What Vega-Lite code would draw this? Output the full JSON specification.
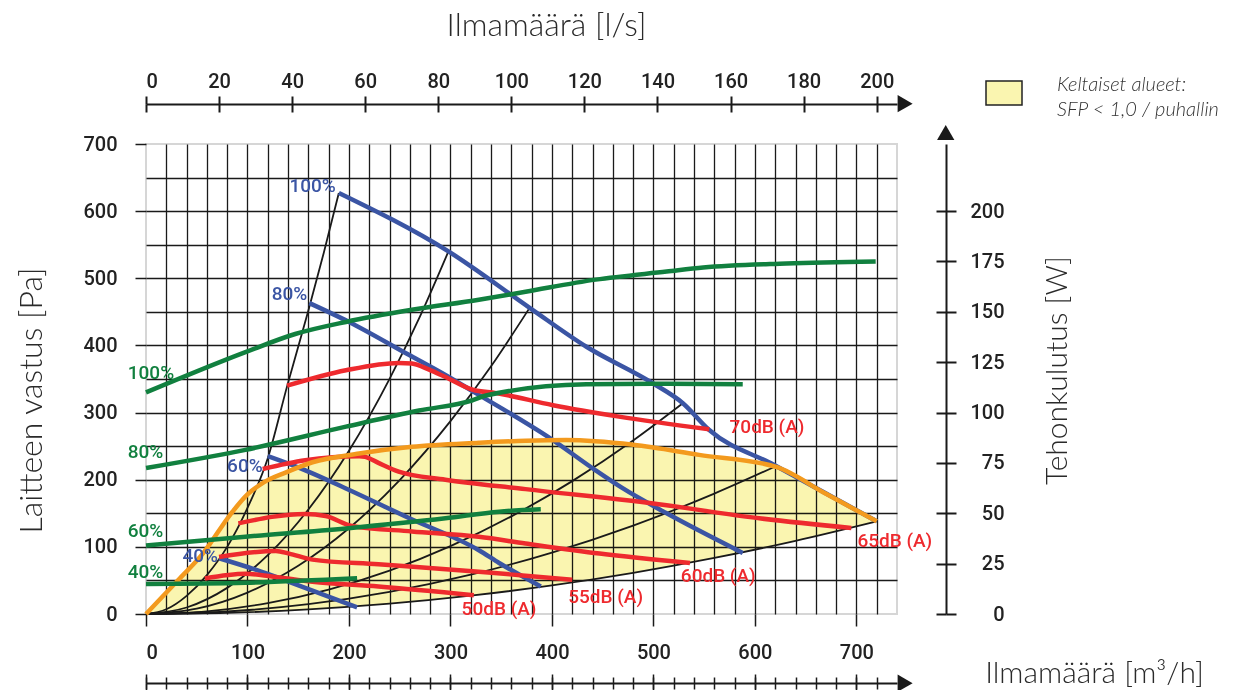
{
  "$schema": "https://vega.github.io/schema/vega-lite/v6.json",
  "width": 751,
  "height": 470,
  "autosize": {"type": "none"},
  "padding": {"left": 146, "top": 144, "right": 341, "bottom": 76},
  "background": "#ffffff",
  "config": {
    "view": {"stroke": "#d6d6d6", "strokeWidth": 2},
    "axis": {"labelFont": "Roboto", "labelFontSize": 20, "labelFontWeight": 500, "labelColor": "#222222", "titleFont": "Lato", "titleFontSize": 32, "titleFontWeight": 300, "titleColor": "#2a2a2a", "tickColor": "#1a1a1a", "domainColor": "#1a1a1a", "grid": false},
    "text": {"font": "Roboto", "fontSize": 19, "fontWeight": 500}
  },
  "datasets": {
    "sfp": [
      {"x": 0, "top": 0, "bottom": 0},
      {"x": 32, "top": 51, "bottom": 0.3},
      {"x": 56, "top": 90, "bottom": 0.8},
      {"x": 84, "top": 150, "bottom": 1.9},
      {"x": 100, "top": 178, "bottom": 2.7},
      {"x": 116, "top": 196, "bottom": 3.6},
      {"x": 138, "top": 211, "bottom": 5.1},
      {"x": 164, "top": 226, "bottom": 7.2},
      {"x": 210, "top": 239, "bottom": 11.7},
      {"x": 262, "top": 249, "bottom": 18.3},
      {"x": 328, "top": 255, "bottom": 28.6},
      {"x": 374, "top": 258, "bottom": 37.2},
      {"x": 414, "top": 259, "bottom": 45.6},
      {"x": 480, "top": 252, "bottom": 61.3},
      {"x": 545, "top": 237, "bottom": 79.1},
      {"x": 621, "top": 219, "bottom": 102.7},
      {"x": 670, "top": 179, "bottom": 119.5},
      {"x": 720, "top": 138, "bottom": 138}
    ],
    "system": [
      {"s": "A", "x": 0, "y": 0}, {"s": "A", "x": 20, "y": 7}, {"s": "A", "x": 40, "y": 27}, {"s": "A", "x": 60, "y": 58}, {"s": "A", "x": 80, "y": 100}, {"s": "A", "x": 100, "y": 158}, {"s": "A", "x": 120, "y": 232}, {"s": "A", "x": 139, "y": 339}, {"s": "A", "x": 160, "y": 452}, {"s": "A", "x": 175, "y": 537}, {"s": "A", "x": 190, "y": 627},
      {"s": "B", "x": 0, "y": 0}, {"s": "B", "x": 40, "y": 9.7}, {"s": "B", "x": 80, "y": 38.9}, {"s": "B", "x": 120, "y": 87.6}, {"s": "B", "x": 160, "y": 155.7}, {"s": "B", "x": 200, "y": 243.2}, {"s": "B", "x": 240, "y": 350.3}, {"s": "B", "x": 270, "y": 443.3}, {"s": "B", "x": 298, "y": 540},
      {"s": "C", "x": 0, "y": 0}, {"s": "C", "x": 50, "y": 8}, {"s": "C", "x": 100, "y": 31.9}, {"s": "C", "x": 150, "y": 71.8}, {"s": "C", "x": 200, "y": 127.7}, {"s": "C", "x": 250, "y": 199.5}, {"s": "C", "x": 300, "y": 287.2}, {"s": "C", "x": 340, "y": 368.9}, {"s": "C", "x": 378, "y": 456},
      {"s": "D", "x": 0, "y": 0}, {"s": "D", "x": 60, "y": 4}, {"s": "D", "x": 120, "y": 16.2}, {"s": "D", "x": 180, "y": 36.4}, {"s": "D", "x": 240, "y": 64.6}, {"s": "D", "x": 300, "y": 101}, {"s": "D", "x": 360, "y": 145.4}, {"s": "D", "x": 420, "y": 197.9}, {"s": "D", "x": 480, "y": 258.5}, {"s": "D", "x": 529, "y": 314},
      {"s": "E", "x": 0, "y": 0}, {"s": "E", "x": 80, "y": 3.7}, {"s": "E", "x": 160, "y": 14.6}, {"s": "E", "x": 240, "y": 32.9}, {"s": "E", "x": 320, "y": 58.5}, {"s": "E", "x": 400, "y": 91.5}, {"s": "E", "x": 480, "y": 131.7}, {"s": "E", "x": 560, "y": 179.3}, {"s": "E", "x": 619, "y": 219},
      {"s": "F", "x": 0, "y": 0}, {"s": "F", "x": 80, "y": 1.7}, {"s": "F", "x": 160, "y": 6.8}, {"s": "F", "x": 240, "y": 15.3}, {"s": "F", "x": 320, "y": 27.3}, {"s": "F", "x": 400, "y": 42.6}, {"s": "F", "x": 480, "y": 61.3}, {"s": "F", "x": 560, "y": 83.5}, {"s": "F", "x": 640, "y": 109}, {"s": "F", "x": 720, "y": 138}
    ],
    "fan": [
      {"s": "100", "x": 190, "y": 627}, {"s": "100", "x": 298, "y": 540}, {"s": "100", "x": 378, "y": 456}, {"s": "100", "x": 434, "y": 398}, {"s": "100", "x": 499, "y": 344}, {"s": "100", "x": 529, "y": 314}, {"s": "100", "x": 555, "y": 274}, {"s": "100", "x": 619, "y": 222}, {"s": "100", "x": 720, "y": 138},
      {"s": "80", "x": 161, "y": 463}, {"s": "80", "x": 200, "y": 435}, {"s": "80", "x": 259, "y": 386}, {"s": "80", "x": 295, "y": 356}, {"s": "80", "x": 325, "y": 329}, {"s": "80", "x": 398, "y": 262}, {"s": "80", "x": 443, "y": 214}, {"s": "80", "x": 470, "y": 187}, {"s": "80", "x": 513, "y": 150}, {"s": "80", "x": 588, "y": 91},
      {"s": "60", "x": 120, "y": 235}, {"s": "60", "x": 157, "y": 214}, {"s": "60", "x": 197, "y": 187}, {"s": "60", "x": 259, "y": 143}, {"s": "60", "x": 328, "y": 95}, {"s": "60", "x": 348, "y": 76}, {"s": "60", "x": 389, "y": 41},
      {"s": "40", "x": 72, "y": 83}, {"s": "40", "x": 108, "y": 66}, {"s": "40", "x": 141, "y": 48}, {"s": "40", "x": 208, "y": 10}
    ],
    "noise": [
      {"s": "70", "x": 139, "y": 340}, {"s": "70", "x": 197, "y": 363}, {"s": "70", "x": 249, "y": 374}, {"s": "70", "x": 262, "y": 373}, {"s": "70", "x": 279, "y": 364}, {"s": "70", "x": 295, "y": 353}, {"s": "70", "x": 322, "y": 334}, {"s": "70", "x": 345, "y": 329}, {"s": "70", "x": 401, "y": 311}, {"s": "70", "x": 466, "y": 294}, {"s": "70", "x": 555, "y": 275},
      {"s": "65", "x": 115, "y": 216}, {"s": "65", "x": 157, "y": 229}, {"s": "65", "x": 210, "y": 235}, {"s": "65", "x": 216, "y": 234}, {"s": "65", "x": 229, "y": 225}, {"s": "65", "x": 249, "y": 212}, {"s": "65", "x": 295, "y": 200}, {"s": "65", "x": 374, "y": 186}, {"s": "65", "x": 513, "y": 162}, {"s": "65", "x": 591, "y": 145}, {"s": "65", "x": 695, "y": 128},
      {"s": "60", "x": 91, "y": 135}, {"s": "60", "x": 157, "y": 149}, {"s": "60", "x": 177, "y": 146}, {"s": "60", "x": 203, "y": 131}, {"s": "60", "x": 262, "y": 123}, {"s": "60", "x": 328, "y": 115}, {"s": "60", "x": 374, "y": 105}, {"s": "60", "x": 447, "y": 90}, {"s": "60", "x": 536, "y": 76},
      {"s": "55", "x": 72, "y": 85}, {"s": "55", "x": 128, "y": 94}, {"s": "55", "x": 141, "y": 90}, {"s": "55", "x": 164, "y": 81}, {"s": "55", "x": 229, "y": 74}, {"s": "55", "x": 328, "y": 63}, {"s": "55", "x": 374, "y": 57}, {"s": "55", "x": 420, "y": 51},
      {"s": "50", "x": 58, "y": 53}, {"s": "50", "x": 98, "y": 60}, {"s": "50", "x": 124, "y": 56}, {"s": "50", "x": 164, "y": 48}, {"s": "50", "x": 229, "y": 41}, {"s": "50", "x": 323, "y": 28}
    ],
    "power": [
      {"s": "100", "x": 0, "w": 110}, {"s": "100", "x": 98, "w": 130}, {"s": "100", "x": 147, "w": 139}, {"s": "100", "x": 197, "w": 145}, {"s": "100", "x": 262, "w": 151}, {"s": "100", "x": 328, "w": 156}, {"s": "100", "x": 374, "w": 160}, {"s": "100", "x": 443, "w": 166}, {"s": "100", "x": 513, "w": 170}, {"s": "100", "x": 549, "w": 172}, {"s": "100", "x": 631, "w": 174}, {"s": "100", "x": 719, "w": 175},
      {"s": "80", "x": 0, "w": 72.5}, {"s": "80", "x": 98, "w": 81.5}, {"s": "80", "x": 197, "w": 93}, {"s": "80", "x": 269, "w": 101}, {"s": "80", "x": 321, "w": 106}, {"s": "80", "x": 335, "w": 108.5}, {"s": "80", "x": 434, "w": 114}, {"s": "80", "x": 500, "w": 114.3}, {"s": "80", "x": 588, "w": 114},
      {"s": "60", "x": 0, "w": 34}, {"s": "60", "x": 98, "w": 38.4}, {"s": "60", "x": 197, "w": 42.5}, {"s": "60", "x": 295, "w": 47.5}, {"s": "60", "x": 348, "w": 50.8}, {"s": "60", "x": 389, "w": 52},
      {"s": "40", "x": 0, "w": 14.9}, {"s": "40", "x": 98, "w": 15.5}, {"s": "40", "x": 208, "w": 17.7}
    ],
    "labels": [
      {"t": "100%", "g": "fan", "x": 187, "y": 637},
      {"t": "80%", "g": "fan", "x": 159, "y": 477},
      {"t": "60%", "g": "fan", "x": 115, "y": 221},
      {"t": "40%", "g": "fan", "x": 71, "y": 86},
      {"t": "100%", "g": "power", "x": -18, "y": 359},
      {"t": "80%", "g": "power", "x": -18, "y": 241},
      {"t": "60%", "g": "power", "x": -18, "y": 123},
      {"t": "40%", "g": "power", "x": -18, "y": 63},
      {"t": "70dB (A)", "g": "noise", "x": 575, "y": 279},
      {"t": "65dB (A)", "g": "noise", "x": 701, "y": 108},
      {"t": "60dB (A)", "g": "noise", "x": 527, "y": 57},
      {"t": "55dB (A)", "g": "noise", "x": 416, "y": 26},
      {"t": "50dB (A)", "g": "noise", "x": 311, "y": 7}
    ],
    "arrows": [{"x": 748, "y": 760}, {"x": 748, "y": -103}],
    "arrowW": [{"x": 788, "w": 239}]
  },
  "layer": [
    {
      "layer": [
        {
          "data": {"name": "sfp"},
          "mark": {"type": "area", "interpolate": "monotone", "opacity": 1, "blend": "multiply"},
          "encoding": {
            "x": {"field": "x", "type": "quantitative", "scale": {"domain": [0, 740], "nice": false, "zero": false},
              "axis": {"orient": "bottom", "values": [20,40,60,80,100,120,140,160,180,200,220,240,260,280,300,320,340,360,380,400,420,440,460,480,500,520,540,560,580,600,620,640,660,680,700,720], "grid": true, "gridColor": "#1a1a1a", "gridWidth": 1.3, "gridOpacity": 1, "ticks": false, "labels": false, "domain": false, "title": null}},
            "y": {"field": "top", "type": "quantitative", "scale": {"domain": [0, 700], "nice": false},
              "axis": {"orient": "left", "values": [50,100,150,200,250,300,350,400,450,500,550,600,650], "grid": true, "gridColor": "#1a1a1a", "gridWidth": 1.3, "gridOpacity": 1, "ticks": false, "labels": false, "domain": false, "title": null}},
            "y2": {"field": "bottom"},
            "color": {"datum": "SFP", "type": "nominal", "scale": {"range": ["#faf5b0"]},
              "legend": {"orient": "none", "legendX": 845, "legendY": -64, "title": null,
                "symbolType": "M-1.5,-1H1.5V1H-1.5Z", "symbolSize": 576, "symbolStrokeWidth": 1.5, "symbolStrokeColor": "#222222", "symbolOpacity": 1,
                "labelExpr": "['Keltaiset alueet:', 'SFP < 1,0 / puhallin']",
                "labelFont": "Lato", "labelFontSize": 20, "labelFontStyle": "italic", "labelFontWeight": 300, "labelColor": "#333333", "labelLimit": 400, "labelOffset": 40,
                "encode": {"symbols": {"update": {"stroke": {"value": "#222222"}, "strokeWidth": {"value": 1.5}, "strokeOpacity": {"value": 1}}},
                           "labels": {"update": {"lineHeight": {"value": 25}, "dy": {"value": -8}}}}}}
          }
        },
        {
          "data": {"name": "system"},
          "mark": {"type": "line", "interpolate": "monotone", "color": "#1a1a1a", "strokeWidth": 1.8},
          "encoding": {
            "x": {"field": "x", "type": "quantitative", "scale": {"domain": [0, 740], "nice": false, "zero": false},
              "axis": {"orient": "bottom", "values": [0,100,200,300,400,500,600,700], "tickSize": 12, "tickWidth": 1.5, "domain": false, "labelPadding": 16,
                "title": "Ilmamäärä [m³/h]", "titleFontSize": 30, "titleX": 948, "titleY": 59, "titleAlign": "center", "titleBaseline": "middle", "titleAngle": 0}},
            "y": {"field": "y", "type": "quantitative", "scale": {"domain": [0, 700], "nice": false},
              "axis": {"orient": "left", "values": [0,100,200,300,400,500,600,700], "tickSize": 11, "tickWidth": 1.5, "domain": false, "labelPadding": 18,
                "title": "Laitteen vastus [Pa]", "titleX": -115, "titleY": 256, "titleAlign": "center", "titleBaseline": "middle", "titleAngle": -90}},
            "detail": {"field": "s", "type": "nominal"}
          }
        },
        {
          "data": {"name": "fan"},
          "mark": {"type": "line", "interpolate": "monotone", "color": "#3b55a4", "strokeWidth": 4.5},
          "encoding": {
            "x": {"field": "x", "type": "quantitative", "scale": {"domain": [0, 740], "nice": false, "zero": false},
              "axis": {"orient": "top", "offset": 40, "values": [0,72,144,216,288,360,432,504,576,648,720], "tickSize": -8, "tickWidth": 2, "labels": false, "domain": false, "title": null}},
            "y": {"field": "y", "type": "quantitative", "scale": {"domain": [0, 700], "nice": false}, "axis": null},
            "detail": {"field": "s", "type": "nominal"}
          }
        },
        {
          "data": {"name": "noise"},
          "mark": {"type": "line", "interpolate": "monotone", "color": "#ee2a2e", "strokeWidth": 4.5},
          "encoding": {
            "x": {"field": "x", "type": "quantitative", "scale": {"domain": [0, 740], "nice": false, "zero": false},
              "axis": {"orient": "bottom", "offset": 69, "values": [0,20,40,60,80,100,120,140,160,180,200,220,240,260,280,300,320,340,360,380,400,420,440,460,480,500,520,540,560,580,600,620,640,660,680,700,720], "tickSize": 6, "tickWidth": 1.5, "labels": false, "domain": true, "domainWidth": 2, "title": null}},
            "y": {"field": "y", "type": "quantitative", "scale": {"domain": [0, 700], "nice": false}, "axis": null},
            "detail": {"field": "s", "type": "nominal"}
          }
        },
        {
          "data": {"name": "sfp"},
          "mark": {"type": "line", "interpolate": "monotone", "color": "#f39a1e", "strokeWidth": 4.5},
          "encoding": {
            "x": {"field": "x", "type": "quantitative", "scale": {"domain": [0, 740], "nice": false, "zero": false},
              "axis": {"orient": "top", "offset": 40, "values": [0,72,144,216,288,360,432,504,576,648,720], "labelExpr": "format(datum.value / 3.6, 'd')", "tickSize": 8, "tickWidth": 2, "labelPadding": 5, "domain": true, "domainWidth": 2,
                "title": "Ilmamäärä [l/s]", "titleX": 400, "titleY": -79, "titleAlign": "center", "titleBaseline": "middle"}},
            "y": {"field": "top", "type": "quantitative", "scale": {"domain": [0, 700], "nice": false}, "axis": null}
          }
        },
        {
          "data": {"name": "labels"},
          "transform": [{"filter": "datum.g == 'fan'"}],
          "mark": {"type": "text", "align": "right", "baseline": "middle", "color": "#3b55a4"},
          "encoding": {
            "x": {"field": "x", "type": "quantitative", "scale": {"domain": [0, 740], "nice": false, "zero": false},
              "axis": {"orient": "bottom", "offset": 69, "values": [0,20,40,60,80,100,120,140,160,180,200,220,240,260,280,300,320,340,360,380,400,420,440,460,480,500,520,540,560,580,600,620,640,660,680,700,720], "tickSize": -6, "tickWidth": 1.5, "labels": false, "domain": false, "title": null}},
            "y": {"field": "y", "type": "quantitative", "scale": {"domain": [0, 700], "nice": false}, "axis": null},
            "text": {"field": "t", "type": "nominal"}
          }
        },
        {
          "data": {"name": "labels"},
          "transform": [{"filter": "datum.g == 'power'"}],
          "mark": {"type": "text", "align": "left", "baseline": "middle", "color": "#11803f"},
          "encoding": {
            "x": {"field": "x", "type": "quantitative", "scale": {"domain": [0, 740], "nice": false, "zero": false},
              "axis": {"orient": "bottom", "offset": 69, "values": [0,100,200,300,400,500,600,700], "tickSize": 9, "tickWidth": 1.5, "labels": false, "domain": false, "title": null}},
            "y": {"field": "y", "type": "quantitative", "scale": {"domain": [0, 700], "nice": false}, "axis": null},
            "text": {"field": "t", "type": "nominal"}
          }
        },
        {
          "data": {"name": "labels"},
          "transform": [{"filter": "datum.g == 'noise'"}],
          "mark": {"type": "text", "align": "left", "baseline": "middle", "color": "#ee2a2e"},
          "encoding": {
            "x": {"field": "x", "type": "quantitative", "scale": {"domain": [0, 740], "nice": false, "zero": false},
              "axis": {"orient": "bottom", "offset": 69, "values": [0,100,200,300,400,500,600,700], "tickSize": -9, "tickWidth": 1.5, "labels": false, "domain": false, "title": null}},
            "y": {"field": "y", "type": "quantitative", "scale": {"domain": [0, 700], "nice": false}, "axis": null},
            "text": {"field": "t", "type": "nominal"}
          }
        },
        {
          "data": {"name": "arrows"},
          "mark": {"type": "point", "shape": "triangle-right", "filled": true, "color": "#1a1a1a", "size": 300, "opacity": 1},
          "encoding": {
            "x": {"field": "x", "type": "quantitative", "scale": {"domain": [0, 740], "nice": false, "zero": false}, "axis": null},
            "y": {"field": "y", "type": "quantitative", "scale": {"domain": [0, 700], "nice": false}, "axis": null}
          }
        }
      ],
      "resolve": {"axis": {"x": "independent", "y": "independent"}}
    },
    {
      "layer": [
        {
          "data": {"name": "power"},
          "mark": {"type": "line", "interpolate": "monotone", "color": "#11803f", "strokeWidth": 4.5},
          "encoding": {
            "x": {"field": "x", "type": "quantitative", "scale": {"domain": [0, 740], "nice": false, "zero": false}, "axis": null},
            "y": {"field": "w", "type": "quantitative", "scale": {"domain": [0, 233.333], "nice": false},
              "axis": {"orient": "right", "offset": 49, "values": [0,25,50,75,100,125,150,175,200], "tickSize": 10, "tickWidth": 2, "domain": true, "domainWidth": 2, "labelAlign": "right", "labelBaseline": "middle", "labelPadding": 48,
                "title": "Tehonkulutus [W]", "titleFontSize": 30, "titleX": 111, "titleY": 226, "titleAlign": "center", "titleBaseline": "middle", "titleAngle": -90}},
            "detail": {"field": "s", "type": "nominal"}
          }
        },
        {
          "data": {"name": "arrowW"},
          "mark": {"type": "point", "shape": "triangle-up", "filled": true, "color": "#1a1a1a", "size": 300, "opacity": 1},
          "encoding": {
            "x": {"field": "x", "type": "quantitative", "scale": {"domain": [0, 740], "nice": false, "zero": false}, "axis": null},
            "y": {"field": "w", "type": "quantitative", "scale": {"domain": [0, 233.333], "nice": false},
              "axis": {"orient": "right", "offset": 49, "values": [0,25,50,75,100,125,150,175,200], "tickSize": -10, "tickWidth": 2, "labels": false, "domain": false, "title": null}}
          }
        }
      ],
      "resolve": {"axis": {"x": "independent", "y": "independent"}}
    }
  ],
  "resolve": {"scale": {"y": "independent"}, "axis": {"x": "independent", "y": "independent"}}
}
